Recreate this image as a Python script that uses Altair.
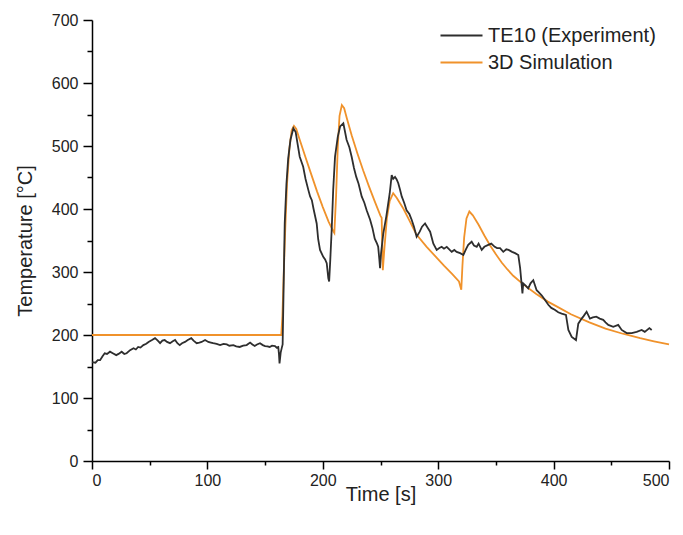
import altair as alt
import pandas as pd

# Experiment (TE10)
exp_t = [0, 3, 5, 7, 9, 11, 13, 15.6, 18, 21, 23, 25.7, 28, 30, 33, 36, 38, 40, 42, 44.5, 47, 49, 52, 54.6,
         57, 59, 61, 63, 65, 67.6, 70, 72, 74, 76, 78, 80.6, 83, 86, 88, 90.7, 93, 95, 98, 100.8, 103, 105,
         108, 111, 114, 116.8, 119, 122.5, 125, 128, 131, 134, 137, 139, 141, 143, 145.6, 148, 150, 152, 154,
         156, 158.6, 160, 161.4, 162, 162.5, 163.5, 164.5, 165.2, 166, 167, 168.5, 170, 172, 174.5, 176.5,
         178, 180, 183, 185, 187.5, 189, 190.5, 192, 194.7, 196, 197.6, 200.4, 202, 203.4, 204.8, 205.5,
         206.5, 207.7, 209, 210.6, 213, 215, 217.8, 219, 220.6, 223, 225, 227, 229, 231, 233.7, 236, 238,
         241, 243, 245, 247, 248, 249, 249.6, 250.5, 252.4, 255, 258, 259.7, 261, 262.6, 264, 265.4, 267,
         268.4, 270.5, 272.6, 275, 277, 279, 281.3, 284, 286, 288.6, 291, 293, 295.8, 298.7, 301, 303, 305,
         307.4, 310, 311.7, 314, 316, 319, 321.8, 324, 326, 329, 331, 333.4, 335, 337.7, 340, 343.4, 346,
         349, 351, 353.6, 356.4, 359, 361, 364, 366.6, 369.4, 371, 373, 373.7, 376, 378, 380, 382.4, 385.3,
         387, 389.6, 392, 395.4, 398, 401, 404, 407, 410.7, 412.8, 415.7, 419.4, 421.4, 424.3, 426, 428.6,
         431.5, 434, 437, 440, 443, 445, 447.4, 451.7, 456, 459, 463.3, 467.7, 472, 476.3, 479, 483, 485]
exp_T = [157, 156, 160, 160, 166, 171, 170, 173.5, 171, 168, 170, 173.5, 170, 171, 176, 179, 177, 181, 180, 184,
         186, 189, 192, 195, 191, 187, 191, 192, 189, 187, 190, 192, 187, 184, 187, 189, 192, 195, 191, 187,
         188, 189, 192, 189, 188, 187, 186, 184, 186, 185, 183, 184, 182, 181, 183, 184, 188, 185, 182.5, 185,
         187, 184, 182.5, 182, 181, 183, 182.5, 180, 181, 170, 155, 172, 180, 185, 270, 377, 440, 480, 510,
         528, 522, 505, 483, 467, 448, 430, 420, 414, 400, 377, 352, 335, 324, 320, 314, 290, 285, 320, 367,
         430, 483, 515, 531, 536, 525, 510, 498, 483, 465, 451, 440, 420, 410, 398, 383, 370, 353, 345, 340,
         320, 306, 330, 361, 388, 425, 454, 448, 451, 447, 441, 430, 420, 410, 398, 392, 383, 372, 356, 364,
         372, 377, 370, 364, 345, 335, 338, 340, 337, 340, 335, 332, 335, 332, 330, 327, 336, 343, 348, 342,
         340, 345, 335, 340, 343, 345, 340, 338, 338, 332, 336, 335, 332, 330, 327, 306, 266, 282, 278, 274,
         282, 287, 271, 268, 263, 257, 248, 243, 240, 236, 234, 232, 208, 197, 192, 218, 226, 230, 237, 226,
         228, 229, 226, 224, 220, 216, 213, 216, 208, 203, 203, 205, 208, 205, 211, 208]

# 3D Simulation
sim_t = [0, 164, 165, 166, 167.5, 169, 171, 173, 175, 177, 180, 185, 190, 195, 200, 205, 209, 210, 211.5,
         213, 214.5, 216.5, 218.5, 221, 225, 230, 235, 240, 245, 250, 251, 252, 253.5, 255.5, 258, 261, 264,
         270, 275, 281, 290, 299, 305, 312, 318, 320, 321, 322.5, 324.5, 327, 330, 335, 340, 345, 350, 355,
         360, 365, 374, 385, 395, 403, 415, 431, 445, 460, 475, 487, 500]
sim_T = [200, 200, 230, 290, 370, 440, 495, 525, 532, 527, 510, 482, 455, 428, 403, 380, 365, 362, 420,
         500, 548, 565, 560, 543, 517, 488, 461, 436, 412, 389, 386, 303, 340, 385, 413, 425, 418,
         400, 382, 360, 340, 322, 310, 297, 285, 272, 310, 355, 385, 396, 390, 375, 358, 342, 328, 315,
         304, 294, 280, 265, 253, 245, 233, 220, 210, 202, 195, 190, 185]

series_names = ["TE10 (Experiment)", "3D Simulation"]
series_colors = ["#2e2e2e", "#F0922B"]

df = pd.concat([
    pd.DataFrame({"t": sim_t, "T": sim_T, "series": series_names[1], "ord": range(len(sim_t))}),
    pd.DataFrame({"t": exp_t, "T": exp_T, "series": series_names[0], "ord": range(len(exp_t))}),
])

FONT = "Liberation Sans"

chart = alt.Chart(df).mark_line(strokeWidth=1.8).encode(
    x=alt.X("t:Q", scale=alt.Scale(domain=[0, 500], nice=False),
            axis=alt.Axis(title="Time [s]", values=list(range(0, 501, 50)),
                          labelExpr="datum.value % 100 === 0 ? datum.label : ''",
                          tickSize={"condition": {"test": "datum.value % 100 === 0", "value": 8}, "value": 4},
                          labelPadding=3, titleY=33, titleBaseline="middle")),
    y=alt.Y("T:Q", scale=alt.Scale(domain=[0, 700], nice=False),
            axis=alt.Axis(title="Temperature [°C]", values=list(range(0, 701, 50)),
                          labelExpr="datum.value % 100 === 0 ? datum.label : ''",
                          tickSize={"condition": {"test": "datum.value % 100 === 0", "value": 9}, "value": 5},
                          labelPadding=5, titleX=-67, titleBaseline="middle")),
    color=alt.Color("series:N", scale=alt.Scale(domain=series_names, range=series_colors),
                    legend=alt.Legend(title=None, orient="none", legendX=358, legendY=4,
                                      symbolType="M-2,0H2", symbolSize=441, symbolStrokeWidth=2,
                                      labelFontSize=20, labelFont=FONT, labelColor="#222",
                                      labelLimit=300, labelOffset=15, rowPadding=5)),
    detail="series:N",
    order="ord:Q",
).properties(
    width=577, height=441,
    autosize=alt.AutoSizeParams(type="none"),
    padding={"left": 84, "top": 12, "right": 2, "bottom": 60},
).configure_view(stroke=None).configure_axis(
    grid=False, domainColor="#000", domainWidth=1.5, tickColor="#000", tickWidth=1.5,
    labelFont=FONT, labelFontSize=16, labelColor="#222",
    titleFont=FONT, titleFontSize=20, titleColor="#222", titleFontWeight="normal",
)

chart.save("out.html", embed_options={"renderer": "svg", "actions": False})
